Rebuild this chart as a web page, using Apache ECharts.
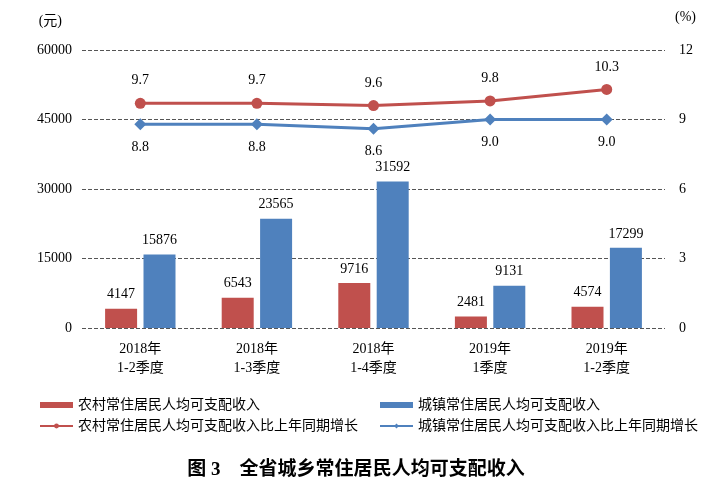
<!DOCTYPE html>
<html>
<head>
<meta charset="utf-8">
<script src="https://cdn.jsdelivr.net/npm/echarts@6/dist/echarts.min.js"></script>
<style>
  html, body { margin: 0; padding: 0; background: #fff; }
  #chart { width: 712px; height: 486px; }
</style>
</head>
<body>
<div id="chart"></div>
<script>
// 数据
const categories = ['2018年\n1-2季度', '2018年\n1-3季度', '2018年\n1-4季度', '2019年\n1季度', '2019年\n1-2季度'];
const ruralIncome = [4147, 6543, 9716, 2481, 4574];
const urbanIncome = [15876, 23565, 31592, 9131, 17299];
const ruralGrowth = [9.7, 9.7, 9.6, 9.8, 10.3];
const urbanGrowth = [8.8, 8.8, 8.6, 9.0, 9.0];

const RED = '#C0504D';
const BLUE = '#4F81BD';
const FONT = '"Liberation Serif", "Noto Sans CJK SC", serif';

const myChart = echarts.init(document.getElementById('chart'));

const dashed = { show: true, lineStyle: { color: '#555', type: [4, 2], width: 1 } };
const legendText = { fontFamily: FONT, fontSize: 14, color: '#000' };

myChart.setOption({
    animation: false,
    textStyle: { fontFamily: FONT, color: '#000' },
    title: {
        text: '图 3    全省城乡常住居民人均可支配收入',
        left: 'center',
        top: 456,
        textStyle: { fontFamily: FONT, fontSize: 19, fontWeight: 'bold', color: '#000' },
    },
    grid: { left: 82, right: 47, top: 50, bottom: 158 },
    legend: [
        {
            orient: 'vertical',
            left: 39,
            top: 398,
            padding: 0,
            itemWidth: 33,
            itemHeight: 6,
            itemGap: 7,
            textStyle: legendText,
            data: [
                { name: '农村常住居民人均可支配收入', icon: 'rect' },
                '农村常住居民人均可支配收入比上年同期增长',
            ],
        },
        {
            orient: 'vertical',
            left: 379,
            top: 398,
            padding: 0,
            itemWidth: 33,
            itemHeight: 6,
            itemGap: 7,
            textStyle: legendText,
            data: [
                { name: '城镇常住居民人均可支配收入', icon: 'rect' },
                '城镇常住居民人均可支配收入比上年同期增长',
            ],
        },
    ],
    xAxis: {
        type: 'category',
        data: categories,
        axisLine: { show: false },
        axisTick: { show: false },
        axisLabel: { fontFamily: FONT, fontSize: 14, color: '#000', margin: 12, lineHeight: 19 },
    },
    yAxis: [
        {
            type: 'value',
            min: 0,
            max: 60000,
            interval: 15000,
            name: '(元)',
            nameLocation: 'end',
            nameGap: 22,
            nameTextStyle: { fontFamily: FONT, fontSize: 14, color: '#000', align: 'right', padding: [0, 20, 0, 0] },
            axisLine: { show: false },
            axisTick: { show: false },
            axisLabel: { fontFamily: FONT, fontSize: 14, color: '#000', margin: 10, formatter: (v) => String(v) },
            splitLine: dashed,
        },
        {
            type: 'value',
            min: 0,
            max: 12,
            interval: 3,
            name: '(%)',
            nameLocation: 'end',
            nameGap: 26,
            nameTextStyle: { fontFamily: FONT, fontSize: 14, color: '#000', align: 'left', padding: [0, 0, 0, 10] },
            axisLine: { show: false },
            axisTick: { show: false },
            axisLabel: { fontFamily: FONT, fontSize: 14, color: '#000', margin: 14 },
            splitLine: { show: false },
        },
    ],
    series: [
        {
            name: '农村常住居民人均可支配收入',
            type: 'bar',
            data: ruralIncome,
            barWidth: 32,
            barGap: '20%',
            itemStyle: { color: RED },
            label: { show: true, position: 'top', distance: 7, fontFamily: FONT, fontSize: 14, color: '#000' },
        },
        {
            name: '城镇常住居民人均可支配收入',
            type: 'bar',
            data: urbanIncome,
            barWidth: 32,
            barGap: '20%',
            itemStyle: { color: BLUE },
            label: { show: true, position: 'top', distance: 7, fontFamily: FONT, fontSize: 14, color: '#000' },
        },
        {
            name: '农村常住居民人均可支配收入比上年同期增长',
            type: 'line',
            yAxisIndex: 1,
            data: ruralGrowth,
            symbol: 'circle',
            symbolSize: 11,
            lineStyle: { color: RED, width: 3 },
            itemStyle: { color: RED },
            label: {
                show: true, position: 'top', distance: 10, fontFamily: FONT, fontSize: 14, color: '#000',
                formatter: (p) => p.value.toFixed(1),
            },
        },
        {
            name: '城镇常住居民人均可支配收入比上年同期增长',
            type: 'line',
            yAxisIndex: 1,
            data: urbanGrowth,
            symbol: 'diamond',
            symbolSize: 12,
            lineStyle: { color: BLUE, width: 3 },
            itemStyle: { color: BLUE },
            label: {
                show: true, position: 'bottom', distance: 10, fontFamily: FONT, fontSize: 14, color: '#000',
                formatter: (p) => p.value.toFixed(1),
            },
        },
    ],
});
</script>
</body>
</html>
